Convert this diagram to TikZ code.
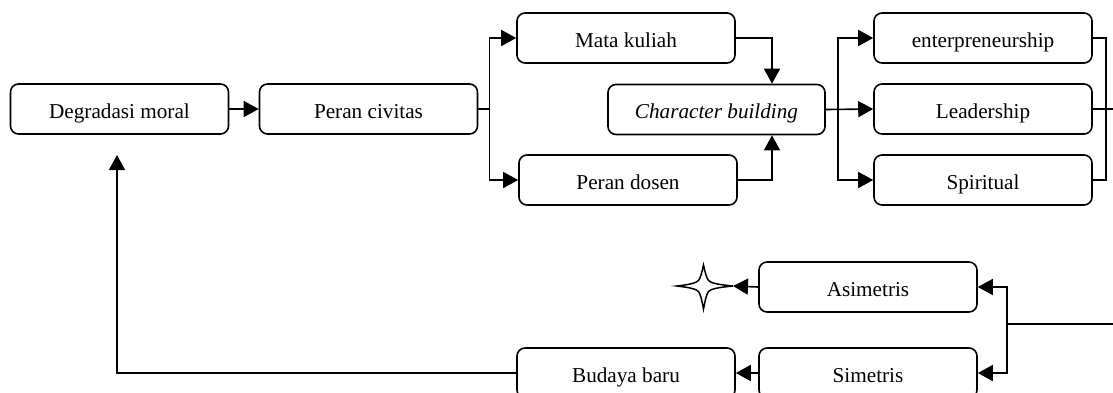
\documentclass[tikz,border=0pt]{standalone}
\usepackage{fontspec}
\setmainfont{Liberation Serif}
\usetikzlibrary{arrows.meta,calc}
\begin{document}
\begin{tikzpicture}[x=1pt,y=-1pt,
  box/.style={draw,line width=1.6pt,rounded corners=8pt,minimum width=218pt,minimum height=50pt,inner sep=0pt,text height=18pt,text depth=0pt,font=\fontsize{21.2}{25}\selectfont},
  conn/.style={line width=1.6pt},
  arr/.style={conn,-{Triangle[length=15pt,width=16pt]}}]
\useasboundingbox (0,0) rectangle (1113,392);
\clip (0,0) rectangle (1113,392);
\node[box] (dm) at (119.5,109) {Degradasi moral};
\node[box] (pc) at (368.5,109) {Peran civitas};
\node[box] (mk) at (626,38) {Mata kuliah};
\node[box] (pd) at (628,180) {Peran dosen};
\node[box,minimum width=217pt] (cb) at (716.5,109.5) {\itshape Character building};
\node[box] (en) at (983,38) {enterpreneurship};
\node[box] (le) at (983,109) {Leadership};
\node[box] (sp) at (983,180) {Spiritual};
\node[box] (as) at (868,287) {Asimetris};
\node[box] (si) at (868,373) {Simetris};
\node[box] (bb) at (626,373) {Budaya baru};
\coordinate (st) at (733,286);
\coordinate (rt) at (1130,109);
\coordinate (rb) at (1130,324);
\coordinate (jb) at (1007,324);
\coordinate (up) at (117,155);
% star
\draw[line width=1.5pt,line join=miter] (st)
  .. controls (717,284.5) and (711,283) .. (708.5,280.5)
  .. controls (706.5,278) and (705,272) .. (703.5,265)
  .. controls (702,272) and (700.5,278) .. (698.5,280.5)
  .. controls (696,283) and (690,284.5) .. (677,286)
  .. controls (690,287.5) and (696,289) .. (698.5,291.5)
  .. controls (700.5,294) and (702,301) .. (703.5,309)
  .. controls (705,301) and (706.5,294) .. (708.5,291.5)
  .. controls (711,289) and (717,287.5) .. (st) -- cycle;
% connectors
\draw[arr] (dm.east) -- (pc.west);
\draw[conn] (pc.east) -- ++(11,0);
\draw[arr] ([xshift=11pt]pc.east) |- (mk.west);
\draw[arr] ([xshift=11pt]pc.east) |- (pd.west);
\draw[arr] (mk.east) -| ([xshift=55.5pt]cb.north);
\draw[arr] (pd.east) -| ([xshift=55.5pt]cb.south);
\draw[arr] (cb.east) -- (le.west);
\draw[arr] ([xshift=12pt]cb.east) |- (en.west);
\draw[arr] ([xshift=12pt]cb.east) |- (sp.west);
\draw[conn] (en.east) -- ++(13,0) |- (sp.east);
\draw[conn] (le.east) -- (rt);
\draw[conn] (rb) -- (jb);
\draw[arr] (jb) |- (as.east);
\draw[arr] (jb) |- (si.east);
\draw[arr] (si.west) -- (bb.east);
\draw[arr] (as.west) -- (st);
\draw[arr] (bb.west) -| (up);
\end{tikzpicture}
\end{document}
